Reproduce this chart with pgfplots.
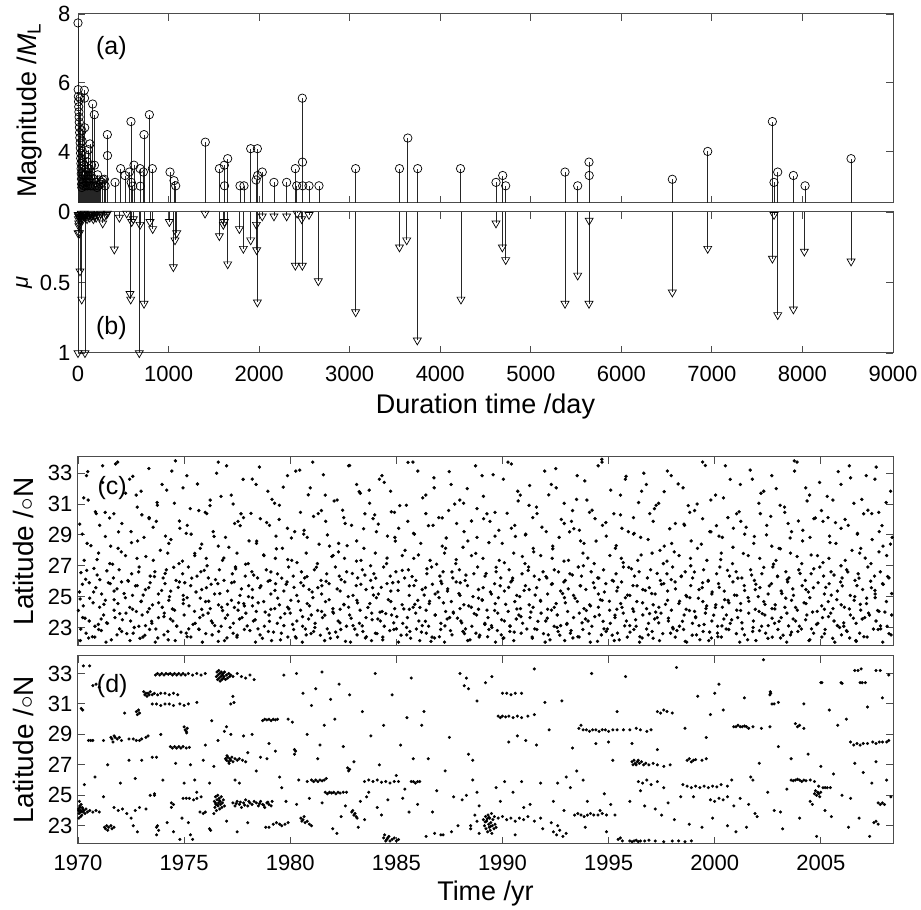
\documentclass[border=0pt]{standalone}
\usepackage{pgfplots}
\pgfplotsset{compat=1.18}
\usepackage{pgfplotstable}
\usepackage{fontspec}
\setmainfont{Liberation Sans}

\pgfplotstableread[row sep=\\]{
0 7.74\\ 2 5.8\\ 4 5.6\\ 6 5.45\\ 8 5.3\\ 10 5.15\\ 12 5.0\\ 14 4.85\\ 16 4.7\\ 18 4.55\\
20 4.4\\ 22 5.55\\ 24 4.25\\ 26 4.1\\ 28 3.95\\ 30 3.8\\ 32 3.65\\ 34 3.5\\ 36 3.35\\ 38 3.2\\
40 3.05\\ 42 2.95\\ 44 4.6\\ 46 4.3\\ 48 4.0\\ 50 3.7\\ 52 3.4\\ 55 3.1\\ 58 3.3\\ 62 3.0\\
66 3.6\\ 70 5.78\\ 72 5.55\\ 74 4.69\\ 78 3.9\\ 82 3.3\\ 86 3.0\\ 90 3.4\\ 95 3.1\\ 100 3.7\\
105 3.0\\ 110 3.3\\ 114 4.05\\ 120 3.2\\ 126 3.5\\ 132 4.22\\ 138 3.0\\ 145 3.3\\ 150 3.6\\ 156 3.0\\
162 5.38\\ 170 3.2\\ 180 5.07\\ 182 3.6\\ 190 3.0\\ 200 3.1\\ 210 2.95\\ 217 3.32\\ 225 3.0\\ 235 3.17\\
250 3.05\\ 265 3.1\\ 273 3.17\\ 291 3.19\\ 300 3.0\\ 324 4.49\\ 326 3.88\\
409 3.1\\ 471 3.5\\ 519 3.3\\ 567 3.4\\ 585 4.87\\ 588 3.1\\ 604 2.99\\ 618 3.6\\ 685 3.5\\ 688 2.99\\
722 3.4\\ 729 4.49\\ 788 5.07\\ 821 3.5\\
1016 3.4\\ 1060 3.15\\ 1079 3.0\\ 1406 4.27\\ 1561 3.5\\ 1616 3.6\\ 1618 3.0\\ 1653 3.79\\
1789 3.0\\ 1833 3.0\\ 1907 4.08\\ 1966 3.17\\ 1981 4.08\\ 1984 3.3\\ 2035 3.4\\ 2164 3.1\\ 2304 3.1\\
2400 3.5\\ 2415 3.0\\ 2477 5.55\\ 2479 3.69\\ 2481 3.0\\ 2551 3.0\\ 2661 3.0\\ 3066 3.5\\
3550 3.5\\ 3642 4.39\\ 3751 3.5\\ 4224 3.5\\ 4616 3.1\\ 4690 3.3\\ 4723 3.0\\
5378 3.4\\ 5518 3.0\\ 5643 3.69\\ 5645 3.3\\ 6563 3.19\\ 6954 4.0\\
7668 4.87\\ 7686 3.1\\ 7727 3.4\\ 7900 3.3\\ 8029 3.0\\ 8537 3.79\\
}\dataa

\pgfplotstableread[row sep=\\]{
0 1.0\\ 1 0.15\\ 2 0.02\\ 4 0.05\\ 6 0.03\\ 8 0.08\\ 10 0.1\\ 12 0.02\\ 15 0.15\\ 18 0.04\\
22 0.42\\ 25 0.02\\ 28 0.06\\ 32 0.03\\ 36 0.01\\ 41 0.62\\ 45 0.04\\ 50 0.02\\ 55 0.05\\ 60 0.03\\
65 0.02\\ 70 0.01\\ 77 1.0\\ 82 0.04\\ 90 0.02\\ 100 0.05\\ 110 0.03\\ 120 0.02\\ 130 0.04\\ 140 0.01\\
150 0.03\\ 160 0.02\\ 170 0.05\\ 180 0.03\\ 190 0.02\\ 200 0.04\\ 217 0.02\\ 235 0.03\\ 250 0.01\\
273 0.08\\ 291 0.03\\ 310 0.02\\ 324 0.01\\
401 0.265\\ 457 0.04\\ 538 0.01\\ 574 0.58\\ 582 0.62\\ 593 0.07\\ 611 0.05\\ 677 1.0\\ 685 0.09\\
729 0.65\\ 795 0.07\\ 825 0.12\\ 1009 0.07\\ 1053 0.39\\ 1071 0.2\\ 1090 0.15\\ 1403 0.01\\
1561 0.17\\ 1605 0.09\\ 1616 0.07\\ 1653 0.37\\ 1782 0.12\\ 1826 0.26\\ 1907 0.2\\ 1970 0.09\\
1973 0.27\\ 1981 0.64\\ 2035 0.03\\ 2164 0.03\\ 2304 0.03\\ 2400 0.38\\ 2420 0.01\\ 2470 0.05\\
2477 0.38\\ 2551 0.02\\ 2654 0.49\\ 3066 0.71\\ 3550 0.25\\ 3630 0.2\\ 3747 0.91\\ 4229 0.62\\
4616 0.08\\ 4686 0.25\\ 4723 0.34\\ 5378 0.65\\ 5518 0.45\\ 5643 0.65\\ 5645 0.06\\ 6563 0.57\\
6954 0.26\\ 7668 0.33\\ 7686 0.02\\ 7727 0.73\\ 7900 0.69\\ 8021 0.28\\ 8537 0.35\\
}\datab

\pgfplotstableread[row sep=\\]{
1970.02 24.1\\ 1970.08 29.7\\ 1970.13 22.9\\ 1970.21 25.8\\ 1970.27 31.4\\ 1970.33 23.6\\ 1970.41 26.7\\ 1970.46 33.1\\ 1970.55 24.9\\ 1970.61 28.3\\ 1970.68 22.4\\ 1970.74 25.3\\ 1970.82 30.5\\ 1970.90 27.4\\ 1970.96 23.2\\
1971.03 26.1\\ 1971.10 22.8\\ 1971.16 32.4\\ 1971.22 24.5\\ 1971.29 28.9\\ 1971.35 23.3\\ 1971.43 25.9\\ 1971.49 30.1\\ 1971.57 22.2\\ 1971.63 27.1\\ 1971.70 24.8\\ 1971.77 33.6\\ 1971.84 25.5\\ 1971.91 29.2\\ 1971.97 23.9\\
1972.04 27.9\\ 1972.09 23.5\\ 1972.17 25.2\\ 1972.24 31.7\\ 1972.30 22.6\\ 1972.37 26.0\\ 1972.44 24.3\\ 1972.52 28.5\\ 1972.58 32.8\\ 1972.65 23.0\\ 1972.71 25.7\\ 1972.79 30.8\\ 1972.86 26.6\\ 1972.92 22.3\\ 1972.98 24.7\\
1973.01 30.3\\ 1973.07 25.1\\ 1973.15 22.5\\ 1973.20 27.6\\ 1973.28 24.0\\ 1973.34 33.3\\ 1973.40 25.9\\ 1973.47 23.4\\ 1973.54 29.5\\ 1973.60 26.3\\ 1973.67 22.9\\ 1973.73 31.1\\ 1973.80 24.6\\ 1973.88 28.0\\ 1973.94 25.4\\
1974.05 23.7\\ 1974.11 26.5\\ 1974.18 31.9\\ 1974.25 22.2\\ 1974.31 25.0\\ 1974.38 28.7\\ 1974.45 24.2\\ 1974.51 26.9\\ 1974.59 33.8\\ 1974.66 23.1\\ 1974.72 25.6\\ 1974.78 29.9\\ 1974.85 22.7\\ 1974.92 27.3\\ 1974.97 24.8\\
1975.03 25.9\\ 1975.10 29.1\\ 1975.14 22.4\\ 1975.23 24.4\\ 1975.29 30.7\\ 1975.36 26.2\\ 1975.42 23.2\\ 1975.50 27.8\\ 1975.56 25.3\\ 1975.63 32.3\\ 1975.69 22.9\\ 1975.76 24.9\\ 1975.83 28.4\\ 1975.89 23.8\\ 1975.95 26.7\\
1976.02 22.6\\ 1976.08 27.0\\ 1976.16 24.7\\ 1976.22 30.9\\ 1976.27 25.8\\ 1976.34 23.3\\ 1976.41 28.9\\ 1976.48 26.1\\ 1976.53 33.0\\ 1976.61 22.1\\ 1976.68 25.2\\ 1976.74 31.5\\ 1976.81 24.1\\ 1976.87 27.5\\ 1976.94 23.6\\
1977.04 24.5\\ 1977.11 28.2\\ 1977.17 23.0\\ 1977.24 25.9\\ 1977.31 31.0\\ 1977.37 24.3\\ 1977.43 26.8\\ 1977.50 22.5\\ 1977.57 24.6\\ 1977.64 29.6\\ 1977.70 25.5\\ 1977.78 32.6\\ 1977.84 24.4\\ 1977.90 27.1\\ 1977.97 23.1\\
1978.03 25.0\\ 1978.10 22.8\\ 1978.15 30.4\\ 1978.22 24.4\\ 1978.28 26.4\\ 1978.35 23.5\\ 1978.42 28.6\\ 1978.49 24.6\\ 1978.55 33.4\\ 1978.62 25.7\\ 1978.69 22.3\\ 1978.75 27.7\\ 1978.82 24.0\\ 1978.89 29.8\\ 1978.96 26.0\\
1979.02 23.4\\ 1979.09 26.6\\ 1979.14 31.3\\ 1979.21 22.7\\ 1979.28 25.4\\ 1979.35 28.1\\ 1979.41 24.9\\ 1979.48 30.0\\ 1979.54 22.2\\ 1979.60 26.2\\ 1979.67 32.1\\ 1979.74 23.9\\ 1979.81 25.8\\ 1979.88 27.4\\ 1979.94 24.2\\
1980.05 28.8\\ 1980.11 23.2\\ 1980.18 25.6\\ 1980.24 22.4\\ 1980.32 27.2\\ 1980.38 24.7\\ 1980.45 33.2\\ 1980.50 25.9\\ 1980.58 23.7\\ 1980.65 29.3\\ 1980.71 22.9\\ 1980.79 26.3\\ 1980.85 31.6\\ 1980.91 24.4\\ 1980.98 22.6\\
1981.03 25.3\\ 1981.10 30.2\\ 1981.16 23.0\\ 1981.23 26.9\\ 1981.29 24.1\\ 1981.36 28.4\\ 1981.42 22.5\\ 1981.49 25.7\\ 1981.56 32.9\\ 1981.63 23.8\\ 1981.69 26.0\\ 1981.75 29.0\\ 1981.83 24.8\\ 1981.89 22.3\\ 1981.96 27.6\\
1982.01 24.0\\ 1982.07 31.2\\ 1982.14 22.7\\ 1982.21 25.5\\ 1982.27 27.9\\ 1982.34 23.3\\ 1982.40 26.1\\ 1982.47 30.6\\ 1982.53 24.5\\ 1982.60 22.1\\ 1982.68 28.3\\ 1982.73 25.0\\ 1982.80 33.5\\ 1982.87 23.6\\ 1982.93 26.5\\
1983.04 22.9\\ 1983.12 27.3\\ 1983.17 24.6\\ 1983.25 31.8\\ 1983.30 31.7\\ 1983.33 25.8\\ 1983.39 23.1\\ 1983.46 29.4\\ 1983.52 26.4\\ 1983.59 22.4\\ 1983.66 24.3\\ 1983.72 31.9\\ 1983.79 27.0\\ 1983.86 23.5\\ 1983.92 25.1\\ 1983.98 30.3\\
1984.03 26.2\\ 1984.09 22.6\\ 1984.15 29.7\\ 1984.23 24.0\\ 1984.29 25.6\\ 1984.36 22.2\\ 1984.43 32.4\\ 1984.50 23.9\\ 1984.56 27.5\\ 1984.62 24.8\\ 1984.69 22.8\\ 1984.76 30.5\\ 1984.83 25.9\\ 1984.88 23.3\\ 1984.95 28.6\\
1985.02 23.7\\ 1985.08 25.4\\ 1985.16 30.9\\ 1985.22 22.5\\ 1985.28 26.7\\ 1985.35 24.2\\ 1985.41 28.0\\ 1985.48 23.0\\ 1985.55 33.7\\ 1985.61 25.7\\ 1985.67 22.3\\ 1985.74 26.3\\ 1985.81 29.1\\ 1985.87 24.5\\ 1985.94 22.9\\
1986.04 27.7\\ 1986.11 24.3\\ 1986.18 22.7\\ 1986.24 31.4\\ 1986.31 25.1\\ 1986.37 23.4\\ 1986.44 26.8\\ 1986.51 29.6\\ 1986.57 24.7\\ 1986.63 22.1\\ 1986.70 25.8\\ 1986.77 32.7\\ 1986.83 23.8\\ 1986.90 27.1\\ 1986.96 25.3\\
1987.03 22.4\\ 1987.10 26.0\\ 1987.16 30.1\\ 1987.22 24.6\\ 1987.29 23.1\\ 1987.35 28.8\\ 1987.42 25.5\\ 1987.49 33.1\\ 1987.55 22.8\\ 1987.62 26.6\\ 1987.68 24.0\\ 1987.75 31.0\\ 1987.82 27.4\\ 1987.88 23.6\\ 1987.95 25.2\\
1988.01 25.9\\ 1988.08 23.3\\ 1988.14 28.2\\ 1988.21 22.6\\ 1988.28 26.4\\ 1988.34 32.0\\ 1988.41 24.4\\ 1988.47 22.2\\ 1988.54 29.9\\ 1988.61 25.0\\ 1988.67 23.9\\ 1988.74 27.8\\ 1988.80 30.7\\ 1988.87 24.9\\ 1988.93 22.5\\
1989.04 24.8\\ 1989.10 31.5\\ 1989.17 23.2\\ 1989.23 26.5\\ 1989.30 22.4\\ 1989.36 28.5\\ 1989.43 25.3\\ 1989.50 23.0\\ 1989.56 32.9\\ 1989.63 24.1\\ 1989.70 26.9\\ 1989.76 22.8\\ 1989.83 29.3\\ 1989.89 25.7\\ 1989.96 23.5\\
1990.03 22.3\\ 1990.09 27.2\\ 1990.15 24.5\\ 1990.22 30.4\\ 1990.29 25.6\\ 1990.35 23.1\\ 1990.42 33.6\\ 1990.48 26.2\\ 1990.55 22.7\\ 1990.61 28.9\\ 1990.68 24.2\\ 1990.74 31.2\\ 1990.81 25.0\\ 1990.87 23.7\\ 1990.94 27.6\\
1991.02 25.4\\ 1991.08 29.0\\ 1991.15 22.9\\ 1991.21 26.7\\ 1991.28 32.2\\ 1991.34 24.0\\ 1991.41 22.3\\ 1991.47 27.9\\ 1991.54 25.1\\ 1991.60 30.8\\ 1991.67 23.4\\ 1991.73 26.1\\ 1991.80 24.7\\ 1991.86 29.5\\ 1991.93 22.6\\
1992.05 26.3\\ 1992.11 23.6\\ 1992.18 31.6\\ 1992.24 22.2\\ 1992.31 25.8\\ 1992.37 28.1\\ 1992.44 24.3\\ 1992.51 33.3\\ 1992.57 23.0\\ 1992.64 26.6\\ 1992.70 22.5\\ 1992.77 30.0\\ 1992.83 25.2\\ 1992.90 27.3\\ 1992.96 24.6\\
1993.03 23.2\\ 1993.10 25.5\\ 1993.16 29.2\\ 1993.23 22.8\\ 1993.29 26.4\\ 1993.36 29.4\\ 1993.42 24.9\\ 1993.49 31.3\\ 1993.55 22.4\\ 1993.62 29.3\\ 1993.68 25.7\\ 1993.75 23.3\\ 1993.81 27.0\\ 1993.88 32.5\\ 1993.95 24.1\\
1994.02 27.5\\ 1994.09 22.6\\ 1994.15 24.4\\ 1994.22 30.6\\ 1994.28 25.9\\ 1994.35 23.7\\ 1994.41 28.6\\ 1994.48 22.1\\ 1994.54 26.2\\ 1994.61 24.8\\ 1994.68 33.9\\ 1994.74 23.4\\ 1994.80 25.3\\ 1994.87 29.8\\ 1994.94 22.9\\
1995.04 24.7\\ 1995.10 31.9\\ 1995.17 22.5\\ 1995.23 26.0\\ 1995.30 23.8\\ 1995.36 28.3\\ 1995.43 25.6\\ 1995.50 22.2\\ 1995.56 30.3\\ 1995.63 24.3\\ 1995.69 27.2\\ 1995.76 23.1\\ 1995.82 32.8\\ 1995.89 25.1\\ 1995.95 26.9\\
1996.01 22.7\\ 1996.08 26.8\\ 1996.14 24.2\\ 1996.21 29.1\\ 1996.27 23.5\\ 1996.34 25.7\\ 1996.41 31.1\\ 1996.47 22.4\\ 1996.53 27.7\\ 1996.60 24.6\\ 1996.66 33.0\\ 1996.73 25.4\\ 1996.79 22.9\\ 1996.86 28.7\\ 1996.93 23.9\\
1997.03 25.2\\ 1997.10 22.3\\ 1997.16 30.7\\ 1997.22 24.0\\ 1997.29 26.5\\ 1997.36 23.3\\ 1997.42 28.0\\ 1997.49 25.8\\ 1997.55 22.6\\ 1997.62 31.8\\ 1997.68 24.5\\ 1997.75 27.3\\ 1997.82 23.6\\ 1997.88 29.4\\ 1997.95 26.1\\
1998.02 23.0\\ 1998.09 27.9\\ 1998.15 25.5\\ 1998.22 22.8\\ 1998.28 32.3\\ 1998.35 24.7\\ 1998.42 26.3\\ 1998.48 23.4\\ 1998.55 29.7\\ 1998.61 22.1\\ 1998.68 25.0\\ 1998.75 30.9\\ 1998.81 24.1\\ 1998.87 27.0\\ 1998.94 22.5\\
1999.04 26.6\\ 1999.10 23.7\\ 1999.17 31.0\\ 1999.23 24.9\\ 1999.30 22.2\\ 1999.37 28.4\\ 1999.43 25.9\\ 1999.50 23.2\\ 1999.56 33.5\\ 1999.62 24.4\\ 1999.69 26.0\\ 1999.76 22.7\\ 1999.82 29.2\\ 1999.88 25.3\\ 1999.95 23.8\\
2000.03 24.3\\ 2000.08 29.6\\ 2000.15 22.4\\ 2000.21 25.6\\ 2000.28 27.4\\ 2000.34 23.1\\ 2000.41 31.4\\ 2000.47 24.8\\ 2000.54 22.9\\ 2000.60 26.7\\ 2000.67 24.6\\ 2000.73 32.6\\ 2000.80 23.5\\ 2000.86 28.2\\ 2000.93 25.1\\
2001.02 22.6\\ 2001.09 26.2\\ 2001.15 30.5\\ 2001.22 24.1\\ 2001.28 23.3\\ 2001.35 27.8\\ 2001.41 25.4\\ 2001.48 29.5\\ 2001.55 22.2\\ 2001.61 24.7\\ 2001.67 33.2\\ 2001.74 26.4\\ 2001.81 23.0\\ 2001.87 28.9\\ 2001.94 25.8\\
2002.05 25.0\\ 2002.11 22.8\\ 2002.18 31.7\\ 2002.24 23.9\\ 2002.31 26.9\\ 2002.37 24.5\\ 2002.44 29.0\\ 2002.51 22.3\\ 2002.57 25.7\\ 2002.64 30.2\\ 2002.70 23.6\\ 2002.77 27.1\\ 2002.83 24.2\\ 2002.90 32.0\\ 2002.96 26.3\\
2003.03 23.4\\ 2003.09 28.1\\ 2003.16 25.2\\ 2003.22 22.5\\ 2003.29 30.8\\ 2003.35 24.9\\ 2003.42 26.1\\ 2003.48 23.1\\ 2003.55 28.8\\ 2003.62 22.7\\ 2003.68 25.5\\ 2003.75 33.8\\ 2003.81 24.3\\ 2003.88 27.6\\ 2003.94 29.9\\
2004.02 26.5\\ 2004.08 22.9\\ 2004.15 29.3\\ 2004.21 24.6\\ 2004.28 23.5\\ 2004.35 31.2\\ 2004.41 25.3\\ 2004.48 22.2\\ 2004.54 27.7\\ 2004.61 24.0\\ 2004.67 26.8\\ 2004.74 30.1\\ 2004.80 23.2\\ 2004.87 25.9\\ 2004.94 32.4\\
2005.04 24.4\\ 2005.10 27.2\\ 2005.17 22.6\\ 2005.23 25.6\\ 2005.30 31.5\\ 2005.36 23.7\\ 2005.43 28.5\\ 2005.49 25.1\\ 2005.56 22.3\\ 2005.62 26.4\\ 2005.69 29.8\\ 2005.75 24.8\\ 2005.82 33.1\\ 2005.88 23.0\\ 2005.95 27.0\\
2006.01 25.7\\ 2006.08 23.3\\ 2006.14 30.0\\ 2006.21 22.8\\ 2006.27 26.6\\ 2006.34 24.2\\ 2006.40 32.7\\ 2006.47 28.0\\ 2006.53 23.6\\ 2006.60 25.0\\ 2006.67 22.1\\ 2006.73 29.1\\ 2006.80 26.2\\ 2006.86 24.5\\ 2006.93 31.3\\
2007.03 22.4\\ 2007.09 27.5\\ 2007.16 24.9\\ 2007.22 30.6\\ 2007.29 23.8\\ 2007.35 26.0\\ 2007.42 28.7\\ 2007.48 22.9\\ 2007.55 25.4\\ 2007.61 33.4\\ 2007.68 24.1\\ 2007.74 27.9\\ 2007.81 23.1\\ 2007.88 29.6\\ 2007.94 25.8\\
2008.02 24.0\\ 2008.08 31.1\\ 2008.15 26.3\\ 2008.21 22.6\\ 2008.28 28.4\\ 2008.34 25.2\\
}\datac

\pgfplotstableread[row sep=\\]{
1970.11 22.15\\ 1970.38 22.63\\ 1970.79 22.38\\ 1970.97 22.87\\ 1971.32 22.05\\ 1971.84 22.52\\ 1972.06 22.74\\ 1972.45 22.15\\ 1972.60 22.63\\ 1973.06 22.38\\
1973.37 22.87\\ 1973.64 22.05\\ 1974.05 22.52\\ 1974.23 22.74\\ 1974.58 22.15\\ 1975.10 22.63\\ 1975.32 22.38\\ 1975.71 22.87\\ 1975.86 22.05\\ 1976.32 22.52\\
1976.63 22.74\\ 1976.90 22.15\\ 1977.31 22.63\\ 1977.49 22.38\\ 1977.84 22.87\\ 1978.36 22.05\\ 1978.58 22.52\\ 1978.97 22.74\\ 1979.12 22.15\\ 1979.58 22.63\\
1979.89 22.38\\ 1980.16 22.87\\ 1980.57 22.05\\ 1980.75 22.52\\ 1981.10 22.74\\ 1981.62 22.15\\ 1981.84 22.63\\ 1982.23 22.38\\ 1982.38 22.87\\ 1982.84 22.05\\
1983.15 22.52\\ 1983.42 22.74\\ 1983.83 22.15\\ 1984.01 22.63\\ 1984.36 22.38\\ 1984.88 22.87\\ 1985.10 22.05\\ 1985.49 22.52\\ 1985.64 22.74\\ 1986.10 22.15\\
1986.41 22.63\\ 1986.68 22.38\\ 1987.09 22.87\\ 1987.27 22.05\\ 1987.62 22.52\\ 1988.14 22.74\\ 1988.36 22.15\\ 1988.75 22.63\\ 1988.90 22.38\\ 1989.36 22.87\\
1989.67 22.05\\ 1989.94 22.52\\ 1990.35 22.74\\ 1990.53 22.15\\ 1990.88 22.63\\ 1991.40 22.38\\ 1991.62 22.87\\ 1992.01 22.05\\ 1992.16 22.52\\ 1992.62 22.74\\
1992.93 22.15\\ 1993.20 22.63\\ 1993.61 22.38\\ 1993.79 22.87\\ 1994.14 22.05\\ 1994.66 22.52\\ 1994.88 22.74\\ 1995.27 22.15\\ 1995.42 22.63\\ 1995.88 22.38\\
1996.19 22.87\\ 1996.46 22.05\\ 1996.87 22.52\\ 1997.05 22.74\\ 1997.40 22.15\\ 1997.92 22.63\\ 1998.14 22.38\\ 1998.53 22.87\\ 1998.68 22.05\\ 1999.14 22.52\\
1999.45 22.74\\ 1999.72 22.15\\ 2000.13 22.63\\ 2000.31 22.38\\ 2000.66 22.87\\ 2001.18 22.05\\ 2001.40 22.52\\ 2001.79 22.74\\ 2001.94 22.15\\ 2002.40 22.63\\
2002.71 22.38\\ 2002.98 22.87\\ 2003.39 22.05\\ 2003.57 22.52\\ 2003.92 22.74\\ 2004.44 22.15\\ 2004.66 22.63\\ 2005.05 22.38\\ 2005.20 22.87\\ 2005.66 22.05\\
2005.97 22.52\\ 2006.24 22.74\\ 2006.65 22.15\\ 2006.83 22.63\\ 2007.18 22.38\\ 2007.70 22.87\\ 2007.92 22.05\\ 2008.31 22.52\\
1970.22 23.64\\ 1970.53 23.42\\ 1970.80 23.08\\ 1971.21 23.81\\ 1971.39 23.27\\ 1971.74 23.64\\ 1972.26 23.93\\ 1972.48 23.42\\ 1972.87 23.08\\ 1973.02 23.81\\ 1973.48 23.27\\
1973.79 23.64\\ 1974.06 23.93\\ 1974.47 23.42\\ 1974.65 23.08\\ 1975.00 23.81\\ 1975.52 23.27\\ 1975.74 23.64\\ 1976.13 23.93\\ 1976.28 23.42\\ 1976.74 23.08\\
1977.05 23.81\\ 1977.32 23.27\\ 1977.73 23.64\\ 1977.91 23.93\\ 1978.26 23.42\\ 1978.78 23.08\\ 1979.00 23.81\\ 1979.39 23.27\\ 1979.54 23.64\\ 1980.00 23.93\\
1980.31 23.42\\ 1980.58 23.08\\ 1980.99 23.81\\ 1981.17 23.27\\ 1981.52 23.64\\ 1982.04 23.93\\ 1982.26 23.42\\ 1982.65 23.08\\ 1982.80 23.81\\ 1983.26 23.27\\
1983.57 23.64\\ 1983.84 23.93\\ 1984.25 23.42\\ 1984.43 23.08\\ 1984.78 23.81\\ 1985.30 23.27\\ 1985.52 23.64\\ 1985.91 23.93\\ 1986.06 23.42\\ 1986.52 23.08\\
1986.83 23.81\\ 1987.10 23.27\\ 1987.51 23.64\\ 1987.69 23.93\\ 1988.04 23.42\\ 1988.56 23.08\\ 1988.78 23.81\\ 1989.17 23.27\\ 1989.32 23.64\\ 1989.78 23.93\\
1990.09 23.42\\ 1990.36 23.08\\ 1990.77 23.81\\ 1990.95 23.27\\ 1991.30 23.64\\ 1991.82 23.93\\ 1992.04 23.42\\ 1992.43 23.08\\ 1992.58 23.81\\ 1993.04 23.27\\
1993.35 23.64\\ 1993.62 23.93\\ 1994.03 23.42\\ 1994.21 23.08\\ 1994.56 23.81\\ 1995.08 23.27\\ 1995.30 23.64\\ 1995.69 23.93\\ 1995.84 23.42\\ 1996.30 23.08\\
1996.61 23.81\\ 1996.88 23.27\\ 1997.29 23.64\\ 1997.47 23.93\\ 1997.82 23.42\\ 1998.34 23.08\\ 1998.56 23.81\\ 1998.95 23.27\\ 1999.10 23.64\\ 1999.56 23.93\\
1999.87 23.42\\ 2000.14 23.08\\ 2000.55 23.81\\ 2000.73 23.27\\ 2001.08 23.64\\ 2001.60 23.93\\ 2001.82 23.42\\ 2002.21 23.08\\ 2002.36 23.81\\ 2002.82 23.27\\
2003.13 23.64\\ 2003.40 23.93\\ 2003.81 23.42\\ 2003.99 23.08\\ 2004.34 23.81\\ 2004.86 23.27\\ 2005.08 23.64\\ 2005.47 23.93\\ 2005.62 23.42\\ 2006.08 23.08\\
2006.39 23.81\\ 2006.66 23.27\\ 2007.07 23.64\\ 2007.25 23.93\\ 2007.60 23.42\\ 2008.12 23.08\\ 2008.34 23.81\\
1970.10 24.85\\ 1970.25 24.40\\ 1970.71 24.60\\
1971.02 24.31\\ 1971.29 24.76\\ 1971.70 24.12\\ 1971.88 24.55\\ 1972.23 24.93\\ 1972.75 24.04\\ 1972.97 24.68\\ 1973.36 24.22\\ 1973.51 24.47\\ 1973.97 24.31\\
1974.28 24.76\\ 1974.55 24.12\\ 1974.96 24.55\\ 1975.14 24.93\\ 1975.49 24.04\\ 1976.01 24.68\\ 1976.23 24.22\\ 1976.62 24.47\\ 1976.77 24.31\\ 1977.23 24.76\\
1977.54 24.12\\ 1977.81 24.55\\ 1978.22 24.93\\ 1978.40 24.04\\ 1978.75 24.68\\ 1979.27 24.22\\ 1979.49 24.47\\ 1979.88 24.31\\ 1980.03 24.76\\ 1980.49 24.12\\
1980.80 24.55\\ 1981.07 24.93\\ 1981.48 24.04\\ 1981.66 24.68\\ 1982.01 24.22\\ 1982.53 24.47\\ 1982.75 24.31\\ 1983.14 24.76\\ 1983.29 24.12\\ 1983.75 24.55\\
1984.06 24.93\\ 1984.33 24.04\\ 1984.74 24.68\\ 1984.92 24.22\\ 1985.27 24.47\\ 1985.79 24.31\\ 1986.01 24.76\\ 1986.40 24.12\\ 1986.55 24.55\\ 1987.01 24.93\\
1987.32 24.04\\ 1987.59 24.68\\ 1988.00 24.22\\ 1988.18 24.47\\ 1988.53 24.31\\ 1989.05 24.76\\ 1989.27 24.12\\ 1989.66 24.55\\ 1989.81 24.93\\ 1990.27 24.04\\
1990.58 24.68\\ 1990.85 24.22\\ 1991.26 24.47\\ 1991.44 24.31\\ 1991.79 24.76\\ 1992.31 24.12\\ 1992.53 24.55\\ 1992.92 24.93\\ 1993.07 24.04\\ 1993.53 24.68\\
1993.84 24.22\\ 1994.11 24.47\\ 1994.52 24.31\\ 1994.70 24.76\\ 1995.05 24.12\\ 1995.57 24.55\\ 1995.79 24.93\\ 1996.18 24.04\\ 1996.33 24.68\\ 1996.79 24.22\\
1997.10 24.47\\ 1997.37 24.31\\ 1997.78 24.76\\ 1997.96 24.12\\ 1998.31 24.55\\ 1998.83 24.93\\ 1999.05 24.04\\ 1999.44 24.68\\ 1999.59 24.22\\ 2000.05 24.47\\
2000.36 24.31\\ 2000.63 24.76\\ 2001.04 24.12\\ 2001.22 24.55\\ 2001.57 24.93\\ 2002.09 24.04\\ 2002.31 24.68\\ 2002.70 24.22\\ 2002.85 24.47\\ 2003.31 24.31\\
2003.62 24.76\\ 2003.89 24.12\\ 2004.30 24.55\\ 2004.48 24.93\\ 2004.83 24.04\\ 2005.35 24.68\\ 2005.57 24.22\\ 2005.96 24.47\\ 2006.11 24.31\\ 2006.57 24.76\\
2006.88 24.12\\ 2007.15 24.55\\ 2007.56 24.93\\ 2007.74 24.04\\ 2008.09 24.68\\
1970.07 25.30\\ 1970.53 25.90\\
1970.84 25.58\\ 1971.11 25.17\\ 1971.52 25.84\\ 1971.70 25.36\\ 1972.05 25.95\\ 1972.57 25.08\\ 1972.79 25.71\\ 1973.18 25.46\\ 1973.33 25.58\\ 1973.79 25.17\\
1974.10 25.84\\ 1974.37 25.36\\ 1974.78 25.95\\ 1974.96 25.08\\ 1975.31 25.71\\ 1975.83 25.46\\ 1976.05 25.58\\ 1976.44 25.17\\ 1976.59 25.84\\ 1977.05 25.36\\
1977.36 25.95\\ 1977.63 25.08\\ 1978.04 25.71\\ 1978.22 25.46\\ 1978.57 25.58\\ 1979.09 25.17\\ 1979.31 25.84\\ 1979.70 25.36\\ 1979.85 25.95\\ 1980.31 25.08\\
1980.62 25.71\\ 1980.89 25.46\\ 1981.30 25.58\\ 1981.48 25.17\\ 1981.83 25.84\\ 1982.35 25.36\\ 1982.57 25.95\\ 1982.96 25.08\\ 1983.11 25.71\\ 1983.57 25.46\\
1983.88 25.58\\ 1984.15 25.17\\ 1984.56 25.84\\ 1984.74 25.36\\ 1985.09 25.95\\ 1985.61 25.08\\ 1985.83 25.71\\ 1986.22 25.46\\ 1986.37 25.58\\ 1986.83 25.17\\
1987.14 25.84\\ 1987.41 25.36\\ 1987.82 25.95\\ 1988.00 25.08\\ 1988.35 25.71\\ 1988.87 25.46\\ 1989.09 25.58\\ 1989.48 25.17\\ 1989.63 25.84\\ 1990.09 25.36\\
1990.40 25.95\\ 1990.67 25.08\\ 1991.08 25.71\\ 1991.26 25.46\\ 1991.61 25.58\\ 1992.13 25.17\\ 1992.35 25.84\\ 1992.74 25.36\\ 1992.89 25.95\\ 1993.35 25.08\\
1993.66 25.71\\ 1993.93 25.46\\ 1994.34 25.58\\ 1994.52 25.17\\ 1994.87 25.84\\ 1995.39 25.36\\ 1995.61 25.95\\ 1996.00 25.08\\ 1996.15 25.71\\ 1996.61 25.46\\
1996.92 25.58\\ 1997.19 25.17\\ 1997.60 25.84\\ 1997.78 25.36\\ 1998.13 25.95\\ 1998.65 25.08\\ 1998.87 25.71\\ 1999.26 25.46\\ 1999.41 25.58\\ 1999.87 25.17\\
2000.18 25.84\\ 2000.45 25.36\\ 2000.86 25.95\\ 2001.04 25.08\\ 2001.39 25.71\\ 2001.91 25.46\\ 2002.13 25.58\\ 2002.52 25.17\\ 2002.67 25.84\\ 2003.13 25.36\\
2003.44 25.95\\ 2003.71 25.08\\ 2004.12 25.71\\ 2004.30 25.46\\ 2004.65 25.58\\ 2005.17 25.17\\ 2005.39 25.84\\ 2005.78 25.36\\ 2005.93 25.95\\ 2006.39 25.08\\
2006.70 25.71\\ 2006.97 25.46\\ 2007.38 25.58\\ 2007.56 25.17\\ 2007.91 25.84\\
1970.14 26.55\\ 1970.36 26.12\\ 1970.75 26.83\\ 1970.90 26.40\\ 1971.36 26.67\\
1971.67 26.21\\ 1971.94 26.74\\ 1972.35 26.05\\ 1972.53 26.48\\ 1972.88 26.92\\ 1973.40 26.33\\ 1973.62 26.61\\ 1974.01 26.21\\ 1974.16 26.74\\ 1974.62 26.05\\
1974.93 26.48\\ 1975.20 26.92\\ 1975.61 26.33\\ 1975.79 26.61\\ 1976.14 26.21\\ 1976.66 26.74\\ 1976.88 26.05\\ 1977.27 26.48\\ 1977.42 26.92\\ 1977.88 26.33\\
1978.19 26.61\\ 1978.46 26.21\\ 1978.87 26.74\\ 1979.05 26.05\\ 1979.40 26.48\\ 1979.92 26.92\\ 1980.14 26.33\\ 1980.53 26.61\\ 1980.68 26.21\\ 1981.14 26.74\\
1981.45 26.05\\ 1981.72 26.48\\ 1982.13 26.92\\ 1982.31 26.33\\ 1982.66 26.61\\ 1983.18 26.21\\ 1983.40 26.74\\ 1983.79 26.05\\ 1983.94 26.48\\ 1984.40 26.92\\
1984.71 26.33\\ 1984.98 26.61\\ 1985.39 26.21\\ 1985.57 26.74\\ 1985.92 26.05\\ 1986.44 26.48\\ 1986.66 26.92\\ 1987.05 26.33\\ 1987.20 26.61\\ 1987.66 26.21\\
1987.97 26.74\\ 1988.24 26.05\\ 1988.65 26.48\\ 1988.83 26.92\\ 1989.18 26.33\\ 1989.70 26.61\\ 1989.92 26.21\\ 1990.31 26.74\\ 1990.46 26.05\\ 1990.92 26.48\\
1991.23 26.92\\ 1991.50 26.33\\ 1991.91 26.61\\ 1992.09 26.21\\ 1992.44 26.74\\ 1992.96 26.05\\ 1993.18 26.48\\ 1993.57 26.92\\ 1993.72 26.33\\ 1994.18 26.61\\
1994.49 26.21\\ 1994.76 26.74\\ 1995.17 26.05\\ 1995.35 26.48\\ 1995.70 26.92\\ 1996.22 26.33\\ 1996.44 26.61\\ 1996.83 26.21\\ 1996.98 26.74\\ 1997.44 26.05\\
1997.75 26.48\\ 1998.02 26.92\\ 1998.43 26.33\\ 1998.61 26.61\\ 1998.96 26.21\\ 1999.48 26.74\\ 1999.70 26.05\\ 2000.09 26.48\\ 2000.24 26.92\\ 2000.70 26.33\\
2001.01 26.61\\ 2001.28 26.21\\ 2001.69 26.74\\ 2001.87 26.05\\ 2002.22 26.48\\ 2002.74 26.92\\ 2002.96 26.33\\ 2003.35 26.61\\ 2003.50 26.21\\ 2003.96 26.74\\
2004.27 26.05\\ 2004.54 26.48\\ 2004.95 26.92\\ 2005.13 26.33\\ 2005.48 26.61\\ 2006.00 26.21\\ 2006.22 26.74\\ 2006.61 26.05\\ 2006.76 26.48\\ 2007.22 26.92\\
2007.53 26.33\\ 2007.80 26.61\\ 2008.21 26.21\\
1970.29 27.35\\ 1970.97 27.82\\ 1971.50 27.14\\ 1972.24 27.66\\ 1972.78 27.48\\ 1973.55 27.35\\ 1974.23 27.82\\ 1974.76 27.14\\ 1975.50 27.66\\ 1976.04 27.48\\
1976.81 27.35\\ 1977.49 27.82\\ 1978.02 27.14\\ 1978.76 27.66\\ 1979.30 27.48\\ 1980.07 27.35\\ 1980.75 27.82\\ 1981.28 27.14\\ 1982.02 27.66\\ 1982.56 27.48\\
1983.33 27.35\\ 1984.01 27.82\\ 1984.54 27.14\\ 1985.28 27.66\\ 1985.82 27.48\\ 1986.59 27.35\\ 1987.27 27.82\\ 1987.80 27.14\\ 1988.54 27.66\\ 1989.08 27.48\\
1989.85 27.35\\ 1990.53 27.82\\ 1991.06 27.14\\ 1991.80 27.66\\ 1992.34 27.48\\ 1993.11 27.35\\ 1993.79 27.82\\ 1994.32 27.14\\ 1995.06 27.66\\ 1995.60 27.48\\
1996.37 27.35\\ 1997.05 27.82\\ 1997.58 27.14\\ 1998.32 27.66\\ 1998.86 27.48\\ 1999.63 27.35\\ 2000.31 27.82\\ 2000.84 27.14\\ 2001.58 27.66\\ 2002.12 27.48\\
2002.89 27.35\\ 2003.57 27.82\\ 2004.10 27.14\\ 2004.84 27.66\\ 2005.38 27.48\\ 2006.15 27.35\\ 2006.83 27.82\\ 2007.36 27.14\\ 2008.10 27.66\\
1970.43 28.45\\ 1971.02 29.62\\ 1971.89 28.13\\ 1972.50 29.21\\ 1973.11 28.84\\ 1973.69 29.88\\ 1974.28 28.45\\ 1975.15 29.62\\ 1975.76 28.13\\ 1976.37 29.21\\
1976.95 28.84\\ 1977.54 29.88\\ 1978.41 28.45\\ 1979.02 29.62\\ 1979.63 28.13\\ 1980.21 29.21\\ 1980.80 28.84\\ 1981.67 29.88\\ 1982.28 28.45\\ 1982.89 29.62\\
1983.47 28.13\\ 1984.06 29.21\\ 1984.93 28.84\\ 1985.54 29.88\\ 1986.15 28.45\\ 1986.73 29.62\\ 1987.32 28.13\\ 1988.19 29.21\\ 1988.80 28.84\\ 1989.41 29.88\\
1989.99 28.45\\ 1990.58 29.62\\ 1991.45 28.13\\ 1992.06 29.21\\ 1992.67 28.84\\ 1993.25 29.88\\ 1993.84 28.45\\ 1994.71 29.62\\ 1995.32 28.13\\ 1995.93 29.21\\
1996.51 28.84\\ 1997.10 29.88\\ 1997.97 28.45\\ 1998.58 29.62\\ 1999.19 28.13\\ 1999.77 29.21\\ 2000.36 28.84\\ 2001.23 29.88\\ 2001.84 28.45\\ 2002.45 29.62\\
2003.03 28.13\\ 2003.62 29.21\\ 2004.49 28.84\\ 2005.10 29.88\\ 2005.71 28.45\\ 2006.29 29.62\\ 2006.88 28.13\\ 2007.75 29.21\\ 2008.36 28.84\\
1970.48 31.26\\ 1971.16 33.48\\ 1971.69 30.37\\ 1972.43 32.61\\ 1972.97 31.83\\ 1973.74 30.92\\ 1974.42 33.14\\ 1974.95 32.05\\ 1975.69 30.58\\ 1976.23 31.26\\
1977.00 33.48\\ 1977.68 30.37\\ 1978.21 32.61\\ 1978.95 31.83\\ 1979.49 30.92\\ 1980.26 33.14\\ 1980.94 32.05\\ 1981.47 30.58\\ 1982.21 31.26\\ 1982.75 33.48\\
1983.52 30.37\\ 1984.20 32.61\\ 1984.73 31.83\\ 1985.47 30.92\\ 1986.01 33.14\\ 1986.78 32.05\\ 1987.46 30.58\\ 1987.99 31.26\\ 1988.73 33.48\\ 1989.27 30.37\\
1990.04 32.61\\ 1990.72 31.83\\ 1991.25 30.92\\ 1991.99 33.14\\ 1992.53 32.05\\ 1993.30 30.58\\ 1993.98 31.26\\ 1994.51 33.48\\ 1995.25 30.37\\ 1995.79 32.61\\
1996.56 31.83\\ 1997.24 30.92\\ 1997.77 33.14\\ 1998.51 32.05\\ 1999.05 30.58\\ 1999.82 31.26\\ 2000.50 33.48\\ 2001.03 30.37\\ 2001.77 32.61\\ 2002.31 31.83\\
2003.08 30.92\\ 2003.76 33.14\\ 2004.29 32.05\\ 2005.03 30.58\\ 2005.57 31.26\\ 2006.34 33.48\\ 2007.02 30.37\\ 2007.55 32.61\\ 2008.29 31.83\\
}\datace

\pgfplotstableread[row sep=\\]{
1970.40 32.84\\ 1971.28 30.46\\ 1971.87 33.72\\ 1972.74 31.58\\ 1973.35 30.12\\ 1973.96 32.27\\ 1974.54 31.05\\ 1975.13 32.84\\ 1976.00 30.46\\ 1976.61 33.72\\
1977.22 31.58\\ 1977.80 30.12\\ 1978.39 32.27\\ 1979.26 31.05\\ 1979.87 32.84\\ 1980.48 30.46\\ 1981.06 33.72\\ 1981.65 31.58\\ 1982.52 30.12\\ 1983.13 32.27\\
1983.74 31.05\\ 1984.32 32.84\\ 1984.91 30.46\\ 1985.78 33.72\\ 1986.39 31.58\\ 1987.00 30.12\\ 1987.58 32.27\\ 1988.17 31.05\\ 1989.04 32.84\\ 1989.65 30.46\\
1990.26 33.72\\ 1990.84 31.58\\ 1991.43 30.12\\ 1992.30 32.27\\ 1992.91 31.05\\ 1993.52 32.84\\ 1994.10 30.46\\ 1994.69 33.72\\ 1995.56 31.58\\ 1996.17 30.12\\
1996.78 32.27\\ 1997.36 31.05\\ 1997.95 32.84\\ 1998.82 30.46\\ 1999.43 33.72\\ 2000.04 31.58\\ 2000.62 30.12\\ 2001.21 32.27\\ 2002.08 31.05\\ 2002.69 32.84\\
2003.30 30.46\\ 2003.88 33.72\\ 2004.47 31.58\\ 2005.34 30.12\\ 2005.95 32.27\\ 2006.56 31.05\\ 2007.14 32.84\\ 2007.73 30.46\\
1970.20 29.05\\ 1970.86 30.38\\ 1971.54 28.27\\ 1972.07 29.74\\ 1972.81 28.61\\ 1973.35 30.05\\ 1974.12 28.92\\ 1974.80 29.43\\ 1975.33 29.05\\ 1976.07 30.38\\
1976.61 28.27\\ 1977.38 29.74\\ 1978.06 28.61\\ 1978.59 30.05\\ 1979.33 28.92\\ 1979.87 29.43\\ 1980.64 29.05\\ 1981.32 30.38\\ 1981.85 28.27\\ 1982.59 29.74\\
1983.13 28.61\\ 1983.90 30.05\\ 1984.58 28.92\\ 1985.11 29.43\\ 1985.85 29.05\\ 1986.39 30.38\\ 1987.16 28.27\\ 1987.84 29.74\\ 1988.37 28.61\\ 1989.11 30.05\\
1989.65 28.92\\ 1990.42 29.43\\ 1991.10 29.05\\ 1991.63 30.38\\ 1992.37 28.27\\ 1992.91 29.74\\ 1993.68 28.61\\ 1994.36 30.05\\ 1994.89 28.92\\ 1995.63 29.43\\
1996.17 29.05\\ 1996.94 30.38\\ 1997.62 28.27\\ 1998.15 29.74\\ 1998.89 28.61\\ 1999.43 30.05\\ 2000.20 28.92\\ 2000.88 29.43\\ 2001.41 29.05\\ 2002.15 30.38\\
2002.69 28.27\\ 2003.46 29.74\\ 2004.14 28.61\\ 2004.67 30.05\\ 2005.41 28.92\\ 2005.95 29.43\\ 2006.72 29.05\\ 2007.40 30.38\\ 2007.93 28.27\\
1970.50 22.32\\ 1971.09 23.55\\ 1971.96 22.91\\ 1972.57 24.18\\ 1973.18 23.12\\ 1973.76 22.32\\ 1974.35 23.55\\ 1975.22 22.91\\ 1975.83 24.18\\ 1976.44 23.12\\
1977.02 22.32\\ 1977.61 23.55\\ 1978.48 22.91\\ 1979.09 24.18\\ 1979.70 23.12\\ 1980.28 22.32\\ 1980.87 23.55\\ 1981.74 22.91\\ 1982.35 24.18\\ 1982.96 23.12\\
1983.54 22.32\\ 1984.13 23.55\\ 1985.00 22.91\\ 1985.61 24.18\\ 1986.22 23.12\\ 1986.80 22.32\\ 1987.39 23.55\\ 1988.26 22.91\\ 1988.87 24.18\\ 1989.48 23.12\\
1990.06 22.32\\ 1990.65 23.55\\ 1991.52 22.91\\ 1992.13 24.18\\ 1992.74 23.12\\ 1993.32 22.32\\ 1993.91 23.55\\ 1994.78 22.91\\ 1995.39 24.18\\ 1996.00 23.12\\
1996.58 22.32\\ 1997.17 23.55\\ 1998.04 22.91\\ 1998.65 24.18\\ 1999.26 23.12\\ 1999.84 22.32\\ 2000.43 23.55\\ 2001.30 22.91\\ 2001.91 24.18\\ 2002.52 23.12\\
2003.10 22.32\\ 2003.69 23.55\\ 2004.56 22.91\\ 2005.17 24.18\\ 2005.78 23.12\\ 2006.36 22.32\\ 2006.95 23.55\\ 2007.82 22.91\\
}\datacf

\pgfplotstableread[row sep=\\]{
1970.02 24.1\\ 1970.05 23.8\\ 1970.08 24.3\\ 1970.10 23.9\\ 1970.12 24.0\\ 1970.15 24.4\\ 1970.18 23.7\\ 1970.04 23.5\\ 1970.07 24.6\\ 1970.13 23.6\\ 1970.20 24.2\\ 1970.24 23.9\\ 1970.28 24.0\\ 1970.33 23.8\\ 1970.38 24.1\\ 1970.45 23.9\\ 1970.09 24.2\\ 1970.16 23.95\\ 1970.03 24.0\\ 1970.22 24.1\\ 1970.55 24.0\\ 1970.70 23.9\\ 1970.85 24.0\\ 1971.0 23.9\\
1970.25 33.5\\ 1970.55 33.5\\ 1970.15 30.7\\ 1970.22 30.6\\ 1970.7 32.2\\ 1970.85 32.3\\ 1971.0 32.1\\
1970.5 28.6\\ 1970.6 28.6\\ 1970.7 28.6\\ 1971.2 28.6\\
1971.55 28.8\\ 1971.6 28.7\\ 1971.7 28.9\\ 1971.75 28.8\\ 1971.85 28.7\\ 1971.95 28.8\\ 1972.05 28.6\\ 1971.65 28.5\\
1971.25 22.9\\ 1971.3 22.8\\ 1971.35 23.0\\ 1971.4 22.7\\ 1971.45 22.9\\ 1971.55 23.0\\ 1971.6 22.8\\ 1971.7 22.9\\
1971.7 24.2\\ 1971.9 24.0\\ 1972.1 24.1\\ 1972.3 23.8\\ 1972.5 23.5\\
1972.75 30.5\\ 1972.8 30.3\\ 1972.85 30.6\\ 1972.9 30.4\\
1972.4 28.7\\ 1972.6 28.7\\ 1972.75 28.6\\ 1972.9 28.6\\ 1973.0 28.7\\ 1973.2 28.8\\
1973.0 27.3\\ 1972.8 22.6\\ 1972.6 23.0\\ 1972.9 24.2\\
1973.1 31.8\\ 1973.15 31.6\\ 1973.2 31.7\\ 1973.25 31.5\\ 1973.3 31.7\\ 1973.35 31.6\\ 1973.4 31.8\\ 1973.5 31.6\\ 1973.6 31.7\\ 1973.75 31.6\\ 1973.9 31.7\\ 1974.1 31.7\\ 1974.3 31.6\\ 1974.5 31.7\\ 1974.7 31.6\\
1973.5 31.0\\ 1973.7 31.0\\ 1973.9 30.9\\ 1974.1 31.0\\ 1974.3 31.0\\ 1974.5 30.9\\ 1974.8 31.0\\ 1975.0 30.9\\ 1975.2 31.0\\ 1975.6 31.1\\
1973.65 32.9\\ 1973.75 33.0\\ 1973.85 32.9\\ 1973.95 33.0\\ 1974.05 32.9\\ 1974.15 33.0\\ 1974.25 32.95\\ 1974.35 33.0\\ 1974.45 32.9\\ 1974.55 33.0\\ 1974.65 32.9\\ 1974.75 33.0\\ 1974.85 32.9\\ 1974.95 33.0\\ 1975.05 32.9\\ 1975.2 33.0\\ 1975.4 32.9\\ 1975.6 33.0\\ 1975.8 32.9\\ 1976.0 33.0\\
1973.9 29.0\\ 1973.7 27.5\\ 1973.4 25.0\\ 1973.6 25.0\\ 1973.7 22.9\\ 1973.75 23.0\\ 1973.8 22.7\\ 1973.7 22.4\\ 1973.5 27.5\\
1974.35 28.2\\ 1974.45 28.1\\ 1974.55 28.2\\ 1974.65 28.1\\ 1974.75 28.2\\ 1974.85 28.1\\ 1974.95 28.2\\ 1975.1 28.1\\ 1975.25 28.15\\
1974.4 24.5\\ 1974.5 24.4\\ 1974.4 24.2\\
1975.0 29.5\\ 1975.05 29.3\\ 1975.1 29.2\\ 1975.15 29.4\\ 1975.12 29.1\\
1974.95 24.8\\ 1975.1 24.8\\ 1975.25 24.8\\ 1975.45 24.7\\ 1975.6 24.8\\ 1975.8 24.9\\
1975.0 25.8\\ 1975.75 23.9\\ 1975.9 23.8\\ 1976.2 22.8\\ 1976.25 22.7\\ 1975.5 26.0\\ 1975.3 22.4\\ 1975.2 23.2\\
1976.42 24.6\\ 1976.45 24.2\\ 1976.48 24.9\\ 1976.5 24.4\\ 1976.52 24.0\\ 1976.55 24.7\\ 1976.58 25.0\\ 1976.6 24.3\\ 1976.62 24.5\\ 1976.65 24.8\\ 1976.68 24.1\\ 1976.7 24.6\\ 1976.72 24.4\\ 1976.75 24.9\\ 1976.78 24.2\\ 1976.8 24.5\\ 1976.85 24.7\\ 1976.9 24.3\\ 1976.47 24.5\\ 1976.57 24.35\\ 1976.67 24.65\\
1976.52 32.8\\ 1976.55 33.1\\ 1976.58 32.6\\ 1976.6 32.9\\ 1976.63 33.2\\ 1976.65 32.7\\ 1976.68 33.0\\ 1976.7 32.5\\ 1976.73 32.8\\ 1976.75 33.1\\ 1976.78 32.6\\ 1976.8 32.9\\ 1976.83 33.0\\ 1976.85 32.7\\ 1976.88 32.8\\ 1976.9 33.1\\ 1976.95 32.6\\ 1977.0 32.9\\ 1977.05 32.7\\ 1977.1 33.0\\ 1977.15 32.8\\ 1977.2 32.9\\ 1977.3 32.8\\ 1977.5 33.0\\ 1977.7 32.8\\ 1977.9 32.7\\ 1978.1 32.9\\ 1978.3 32.6\\
1977.3 31.5\\ 1977.2 31.0\\ 1977.35 31.1\\ 1977.0 29.5\\ 1976.9 29.2\\ 1976.3 29.9\\
1976.95 27.4\\ 1977.0 27.3\\ 1977.05 27.5\\ 1977.1 27.2\\ 1977.15 27.4\\ 1977.2 27.3\\ 1977.25 27.5\\ 1977.3 27.2\\ 1977.4 27.4\\ 1977.5 27.3\\ 1977.6 27.4\\ 1977.75 27.3\\ 1977.9 27.2\\ 1977.02 27.6\\ 1977.12 27.1\\
1977.3 24.5\\ 1977.4 24.3\\ 1977.5 24.6\\ 1977.6 24.4\\ 1977.7 24.2\\ 1977.8 24.5\\ 1977.9 24.7\\ 1978.0 24.3\\ 1978.1 24.5\\ 1978.2 24.4\\ 1978.3 24.6\\ 1977.45 24.45\\ 1977.65 24.55\\ 1977.85 24.35\\ 1978.05 24.6\\
1978.4 24.5\\ 1978.5 24.3\\ 1978.6 24.6\\ 1978.7 24.4\\ 1978.8 24.2\\ 1978.9 24.5\\ 1979.0 24.4\\ 1979.1 24.3\\ 1979.15 24.6\\ 1978.55 24.45\\ 1978.75 24.35\\ 1978.95 24.55\\
1978.7 29.9\\ 1978.8 30.0\\ 1978.9 29.95\\ 1979.0 30.0\\ 1979.1 29.9\\ 1979.2 30.0\\ 1979.3 29.95\\ 1979.4 30.0\\
1979.2 23.1\\ 1979.35 23.2\\ 1979.5 23.1\\ 1979.6 23.0\\ 1979.75 23.1\\ 1979.9 23.2\\ 1978.85 22.9\\ 1979.0 22.9\\
1980.2 28.0\\ 1980.25 27.9\\ 1980.2 27.7\\
1980.5 23.5\\ 1980.55 23.3\\ 1980.6 23.4\\ 1980.65 23.6\\ 1980.7 23.2\\ 1980.8 23.3\\ 1980.9 23.1\\ 1981.0 23.0\\
1980.8 25.9\\ 1981.0 26.0\\ 1981.1 25.9\\ 1981.2 26.0\\ 1981.3 25.9\\ 1981.4 26.0\\ 1981.5 25.95\\ 1981.6 26.0\\ 1981.7 26.1\\
1981.65 25.2\\ 1981.75 25.1\\ 1981.85 25.2\\ 1981.95 25.15\\ 1982.05 25.2\\ 1982.15 25.1\\ 1982.25 25.2\\ 1982.35 25.15\\ 1982.5 25.2\\ 1982.65 25.2\\
1982.7 26.8\\ 1982.75 26.6\\ 1982.8 26.7\\
1982.9 23.9\\ 1983.0 23.7\\ 1983.05 23.8\\ 1983.1 23.6\\ 1982.95 24.0\\ 1983.15 23.5\\
1983.5 25.9\\ 1983.7 26.0\\ 1983.9 25.9\\ 1984.1 26.0\\ 1984.3 25.85\\ 1984.5 25.9\\ 1984.7 25.8\\ 1984.9 25.9\\ 1985.1 25.9\\
1984.4 22.2\\ 1984.5 22.0\\ 1984.55 22.1\\ 1984.6 22.2\\ 1984.7 22.0\\ 1984.8 22.1\\ 1984.9 22.2\\ 1985.0 22.0\\ 1985.1 22.1\\ 1984.45 22.4\\ 1984.65 22.3\\
1985.7 25.9\\ 1985.8 25.9\\ 1985.9 25.8\\ 1986.0 25.9\\ 1986.1 25.9\\
1970.3 25.7\\ 1970.8 26.2\\ 1971.2 24.9\\ 1971.4 27.0\\ 1972.0 25.8\\ 1972.2 30.4\\ 1972.4 27.3\\ 1972.7 26.1\\ 1973.3 28.9\\ 1973.6 25.1\\ 1974.0 26.0\\ 1974.2 23.2\\ 1974.6 27.1\\ 1974.8 22.1\\ 1975.3 27.0\\ 1975.6 25.2\\ 1975.9 27.3\\ 1976.0 28.3\\ 1976.2 25.8\\ 1976.4 26.9\\ 1976.6 28.6\\ 1977.2 29.0\\ 1977.4 26.0\\ 1977.6 25.8\\ 1977.8 28.9\\ 1978.0 27.8\\ 1978.2 29.0\\ 1978.4 26.6\\ 1978.6 27.5\\ 1978.9 27.4\\ 1979.0 28.4\\ 1979.3 27.9\\ 1979.5 26.2\\ 1979.7 32.9\\ 1979.9 30.0\\ 1980.1 29.8\\ 1980.3 33.0\\ 1980.4 26.0\\ 1980.6 31.7\\ 1980.8 29.0\\
1981.0 30.9\\ 1981.2 32.0\\ 1981.3 27.4\\ 1981.4 28.3\\ 1981.5 33.1\\ 1981.6 29.6\\ 1981.9 31.3\\ 1982.1 30.0\\ 1982.3 32.3\\ 1982.5 28.2\\ 1982.6 24.3\\ 1982.8 31.6\\ 1983.0 27.2\\ 1983.2 22.9\\ 1983.4 30.5\\ 1983.6 24.9\\ 1983.8 28.9\\ 1984.0 33.0\\ 1984.2 27.0\\ 1984.4 29.6\\ 1984.6 24.7\\ 1984.8 31.6\\ 1985.0 26.3\\ 1985.2 28.3\\ 1985.4 25.4\\ 1985.5 30.1\\ 1985.7 32.7\\ 1985.8 27.4\\ 1986.0 24.4\\ 1986.2 29.6\\ 1986.3 30.5\\ 1986.5 27.4\\ 1986.7 23.9\\ 1986.9 25.3\\ 1987.1 22.4\\ 1987.3 26.6\\ 1987.5 28.8\\ 1987.7 24.9\\ 1988.0 33.0\\ 1988.2 32.2\\ 1988.4 27.7\\ 1988.6 26.0\\ 1988.8 31.2\\
1983.3 24.6\\ 1983.5 23.4\\ 1983.7 25.2\\ 1984.1 24.2\\ 1984.3 23.7\\ 1985.3 24.8\\ 1985.6 23.9\\ 1986.4 22.3\\ 1986.8 22.5\\ 1987.2 22.4\\ 1987.6 22.6\\ 1987.9 23.0\\ 1988.1 24.7\\ 1988.3 25.0\\ 1988.5 22.8\\ 1988.7 23.7\\ 1988.9 24.3\\ 1982.0 22.8\\ 1982.2 22.5\\ 1982.4 23.6\\ 1981.5 24.5\\ 1980.9 24.8\\ 1980.3 24.4\\ 1979.8 24.6\\ 1979.6 25.5\\ 1978.0 23.2\\ 1977.5 22.6\\ 1977.0 23.3\\ 1976.4 23.8\\ 1976.0 23.9\\ 1975.4 22.1\\ 1974.9 23.5\\ 1974.5 22.6\\ 1973.2 24.1\\ 1972.7 24.0\\
1989.1 23.4\\ 1989.15 23.0\\ 1989.2 23.6\\ 1989.22 22.8\\ 1989.25 23.3\\ 1989.3 22.6\\ 1989.32 23.7\\ 1989.35 23.1\\ 1989.38 22.9\\ 1989.4 23.5\\ 1989.42 22.7\\ 1989.45 23.2\\ 1989.48 23.8\\ 1989.5 22.5\\ 1989.52 23.0\\ 1989.55 23.4\\ 1989.6 22.8\\ 1989.62 23.6\\ 1989.65 23.1\\ 1989.7 22.9\\ 1989.28 23.45\\ 1989.36 23.55\\ 1989.44 22.95\\ 1989.18 23.25\\
1989.8 23.5\\ 1990.0 23.6\\ 1990.2 23.4\\ 1990.4 23.5\\ 1990.6 23.3\\ 1990.8 23.5\\ 1991.0 23.4\\ 1991.2 23.6\\ 1991.5 23.3\\ 1991.8 23.5\\ 1988.5 23.0\\ 1988.8 23.3\\ 1988.9 22.5\\
1992.4 22.6\\ 1992.55 22.4\\ 1992.7 22.7\\ 1992.85 22.3\\ 1993.0 22.5\\ 1992.3 23.2\\ 1992.6 23.0\\
1989.8 30.2\\ 1989.9 30.1\\ 1990.0 30.2\\ 1990.15 30.15\\ 1990.3 30.2\\ 1990.5 30.1\\ 1990.7 30.2\\ 1990.9 30.1\\ 1991.2 30.2\\ 1991.5 30.3\\
1990.0 31.7\\ 1990.2 31.7\\ 1990.4 31.6\\ 1990.6 31.7\\ 1990.9 31.7\\
1993.4 23.7\\ 1993.55 23.8\\ 1993.7 23.7\\ 1993.85 23.6\\ 1994.0 23.7\\ 1994.15 23.8\\ 1994.3 23.7\\ 1994.5 23.7\\ 1994.7 23.8\\ 1994.9 23.7\\ 1995.3 23.7\\
1993.6 29.4\\ 1993.7 29.6\\ 1993.8 29.3\\ 1993.95 29.3\\ 1994.1 29.2\\ 1994.25 29.3\\ 1994.4 29.3\\ 1994.55 29.2\\ 1994.7 29.3\\ 1994.85 29.3\\ 1995.0 29.2\\ 1995.2 29.3\\ 1995.4 29.3\\ 1995.7 29.3\\ 1996.0 29.3\\ 1996.3 29.4\\ 1996.5 29.3\\ 1996.8 29.2\\
1995.45 22.1\\ 1995.55 22.2\\ 1995.65 22.0\\ 1996.0 22.0\\ 1996.1 21.95\\ 1996.2 22.0\\ 1996.3 22.05\\ 1996.4 21.95\\ 1996.5 22.0\\ 1996.7 22.0\\ 1996.9 22.05\\ 1997.2 22.0\\ 1997.6 21.95\\ 1998.0 22.0\\ 1998.3 22.0\\ 1998.6 21.95\\ 1998.9 22.0\\
1996.1 27.2\\ 1996.15 27.0\\ 1996.2 27.3\\ 1996.25 27.1\\ 1996.3 27.0\\ 1996.35 27.2\\ 1996.4 27.3\\ 1996.45 27.1\\ 1996.55 27.2\\ 1996.65 27.0\\ 1996.75 27.1\\ 1996.9 27.0\\ 1997.1 27.1\\ 1997.3 27.0\\ 1997.6 26.9\\ 1997.9 27.0\\
1997.3 30.5\\ 1997.45 30.4\\ 1997.6 30.6\\ 1997.75 30.5\\
1998.7 27.3\\ 1998.8 27.4\\ 1998.9 27.2\\ 1999.0 27.3\\ 1999.1 27.35\\ 1999.4 27.3\\ 1999.6 27.4\\
1996.4 25.9\\ 1996.6 25.8\\ 1996.8 26.0\\ 1997.0 25.7\\ 1997.3 25.9\\ 1997.6 25.5\\
1998.5 25.7\\ 1998.7 25.6\\ 1998.9 25.5\\ 1999.1 25.6\\ 1999.3 25.5\\ 1999.5 25.6\\ 1999.7 25.5\\ 1999.9 25.6\\ 2000.1 25.55\\ 2000.3 25.7\\ 2000.6 25.6\\
1999.8 24.7\\ 2000.0 24.6\\ 2000.2 24.8\\ 2000.4 24.7\\ 2000.6 24.9\\
2000.9 29.5\\ 2001.0 29.5\\ 2001.1 29.6\\ 2001.2 29.5\\ 2001.3 29.5\\ 2001.4 29.55\\ 2001.5 29.5\\ 2001.6 29.4\\ 2001.8 29.5\\ 2002.2 29.4\\ 2002.6 29.5\\
2001.7 26.2\\ 2001.8 26.0\\ 2002.6 31.6\\ 2002.62 31.8\\ 2002.64 31.7\\ 2002.7 31.0\\ 2002.8 31.0\\ 2003.0 31.1\\
2003.6 26.0\\ 2003.7 25.95\\ 2003.8 26.0\\ 2003.9 26.05\\ 2004.0 26.0\\ 2004.1 25.9\\ 2004.2 26.0\\ 2004.3 25.95\\ 2004.5 26.0\\ 2004.7 25.9\\
2004.7 25.1\\ 2004.75 25.3\\ 2004.8 25.0\\ 2004.85 25.2\\ 2004.9 25.1\\ 2004.95 24.9\\ 2005.0 25.2\\
2004.9 25.6\\ 2005.1 25.5\\ 2005.2 25.5\\ 2005.3 25.5\\ 2005.45 25.5\\
2005.0 32.4\\ 2005.05 32.4\\ 2005.95 32.4\\ 2006.0 32.35\\ 2006.85 32.4\\ 2006.95 32.4\\ 2007.1 32.4\\
2006.4 28.5\\ 2006.55 28.3\\ 2006.7 28.4\\ 2006.85 28.3\\ 2007.0 28.4\\ 2007.2 28.4\\ 2007.45 28.5\\ 2007.6 28.4\\ 2007.75 28.5\\ 2007.9 28.5\\ 2008.1 28.5\\ 2008.2 28.6\\
2007.7 24.5\\ 2007.8 24.4\\ 2007.9 24.5\\ 2008.0 24.4\\ 2007.5 23.2\\ 2007.6 23.3\\ 2007.7 23.1\\
2006.6 33.2\\ 2006.75 33.2\\ 2006.9 33.3\\ 2007.6 33.2\\ 2007.8 33.2\\
2003.8 29.7\\ 2003.9 29.5\\ 2004.0 29.6\\ 2004.2 29.4\\
1988.3 32.7\\ 1988.4 32.0\\ 1988.6 27.3\\ 1988.8 25.2\\ 1989.2 32.4\\ 1989.5 32.8\\ 1989.7 25.5\\ 1989.9 24.6\\ 1990.1 25.9\\ 1990.3 28.5\\ 1990.5 25.2\\ 1990.7 28.9\\ 1990.9 25.9\\ 1991.1 28.6\\ 1991.3 24.4\\ 1991.5 33.3\\ 1991.6 28.3\\ 1991.8 25.8\\ 1992.0 31.1\\ 1992.2 29.3\\ 1992.4 24.6\\ 1992.6 25.8\\ 1992.8 31.2\\ 1993.0 26.2\\ 1993.2 25.5\\ 1993.3 28.1\\ 1993.5 26.6\\ 1993.8 26.0\\ 1994.0 24.6\\ 1994.2 33.0\\ 1994.4 28.4\\ 1994.6 24.0\\ 1994.8 25.1\\ 1995.0 28.5\\ 1995.2 27.3\\ 1995.4 30.5\\ 1995.8 32.8\\ 1996.1 28.4\\ 1996.5 25.3\\ 1996.7 24.3\\
1997.0 29.3\\ 1997.3 28.0\\ 1997.5 23.7\\ 1997.8 24.5\\ 1998.0 30.4\\ 1998.2 33.4\\ 1998.4 24.9\\ 1998.6 29.4\\ 1998.8 23.1\\ 1999.0 24.9\\ 1999.2 31.5\\ 1999.4 22.9\\ 1999.6 28.8\\ 1999.8 30.3\\ 2000.0 31.7\\ 2000.2 32.3\\ 2000.4 30.6\\ 2000.6 23.0\\ 2000.8 26.0\\ 2001.0 22.6\\ 2001.2 24.8\\ 2001.4 31.4\\ 2001.6 24.4\\ 2001.9 23.8\\ 2002.1 27.1\\ 2002.3 33.9\\ 2002.5 25.2\\ 2002.8 24.0\\ 2003.0 28.2\\ 2003.2 22.8\\ 2003.4 25.4\\ 2003.6 27.4\\ 2004.0 23.5\\ 2004.2 31.0\\ 2004.4 27.7\\ 2004.6 24.4\\ 2004.8 22.3\\ 2005.0 26.9\\ 2005.2 24.0\\ 2005.4 30.6\\
2005.6 26.4\\ 2005.8 29.6\\ 2006.0 25.0\\ 2006.2 30.0\\ 2006.4 24.8\\ 2006.6 27.1\\ 2006.8 23.5\\ 2007.0 26.5\\ 2007.2 30.8\\ 2007.4 25.8\\ 2007.6 27.2\\ 2007.9 31.4\\ 2008.1 26.0\\ 2008.3 24.9\\ 2008.2 32.9\\ 2007.3 22.3\\ 2006.3 22.9\\ 2005.5 23.6\\ 2004.5 24.6\\ 2003.1 23.9\\ 2002.0 23.6\\ 2001.5 22.9\\ 2000.9 24.3\\ 1999.9 23.5\\ 1998.1 23.4\\ 1997.2 24.1\\ 1996.0 24.6\\ 1995.1 24.4\\ 1994.9 22.6\\ 1993.9 22.9\\ 1992.9 24.0\\ 1991.9 22.8\\ 1991.0 24.2\\ 1990.6 22.4\\
}\datad

\pgfplotsset{
  panel/.style={
    scale only axis, width=815pt, anchor=south west,
    axis line style={black!70, line width=1pt},
    every tick/.style={black!70, line width=0.9pt},
    major tick length=7pt, tick align=inside,
    ticklabel style={font=\fontsize{22}{22}\selectfont},
    /pgf/number format/assume math mode=true,
    /pgf/number format/1000 sep={},
  },
}

\begin{document}
\begin{tikzpicture}
\useasboundingbox (0pt,0pt) rectangle (921pt,910pt);

% (a)
\begin{axis}[panel, at={(78pt,707pt)}, height=189pt,
  xmin=0, xmax=9000, ymin=2.5, ymax=8,
  xtick={0,1000,...,9000}, xticklabels={},
  ytick={4,6,8},
  yticklabel style={xshift=-4pt},
  ylabel={Magnitude /\textit{M}\textsubscript{L}},
  every axis y label/.style={at={(axis description cs:-0.060,0.49)}, rotate=90, anchor=center, font=\fontsize{27}{27}\selectfont},
]
\addplot[ycomb, black!85, line width=0.8pt, mark=o, mark size=4.2pt,
  mark options={line width=0.7pt, fill=none, black}] table {\dataa};
\node[font=\fontsize{25}{25}\selectfont] at (axis description cs:0.041,0.82) {(a)};
\end{axis}

% (b)
\begin{axis}[panel, at={(78pt,557pt)}, height=141pt,
  xmin=0, xmax=9000, ymin=0, ymax=1, y dir=reverse,
  xtick={0,1000,...,9000},
  xticklabel style={yshift=-10pt},
  ytick={0,0.5,1}, yticklabels={0,0.5,1},
  yticklabel style={xshift=-4pt},
  xlabel={Duration time /day},
  every axis x label/.style={at={(axis description cs:0.5,-0.38)}, anchor=center, font=\fontsize{27}{27}\selectfont},
  ylabel={\textit{μ}},
  every axis y label/.style={at={(axis description cs:-0.066,0.5)}, rotate=90, anchor=center, font=\fontsize{22}{22}\selectfont},
]
\addplot[ycomb, black!85, line width=0.8pt, mark=triangle, mark size=4.6pt,
  mark options={line width=0.7pt, fill=none, black, rotate=180}] table {\datab};
\node[font=\fontsize{25}{25}\selectfont] at (axis description cs:0.041,0.18) {(b)};
\end{axis}

% (c)
\begin{axis}[panel, at={(78pt,264pt)}, height=189pt,
  xmin=1970, xmax=2008.4, ymin=21.8, ymax=34.05,
  xtick={1970,1975,...,2005}, xticklabels={},
  ytick={23,25,...,33},
  yticklabel style={xshift=-2pt},
  ylabel={Latitude /$\circ$N},
  every axis y label/.style={at={(axis description cs:-0.067,0.5)}, rotate=90, anchor=center, font=\fontsize{28}{28}\selectfont},
]
\addplot[only marks, mark=*, mark size=1.5pt, black] table {\datac};
\addplot[only marks, mark=*, mark size=1.5pt, black] table {\datace};
\addplot[only marks, mark=*, mark size=1.5pt, black] table {\datacf};
\node[font=\fontsize{25}{25}\selectfont] at (axis description cs:0.042,0.836) {(c)};
\end{axis}

% (d)
\begin{axis}[panel, at={(78pt,66pt)}, height=188pt,
  xmin=1970, xmax=2008.4, ymin=21.8, ymax=34.15,
  xtick={1970,1975,...,2005},
  xticklabel style={yshift=-8pt},
  ytick={23,25,...,33},
  yticklabel style={xshift=-2pt},
  xlabel={Time /yr},
  every axis x label/.style={at={(axis description cs:0.5,-0.265)}, anchor=center, font=\fontsize{27}{27}\selectfont},
  ylabel={Latitude /$\circ$N},
  every axis y label/.style={at={(axis description cs:-0.067,0.5)}, rotate=90, anchor=center, font=\fontsize{28}{28}\selectfont},
]
\addplot[only marks, mark=*, mark size=1.35pt, black] table {\datad};
\node[font=\fontsize{25}{25}\selectfont] at (axis description cs:0.042,0.84) {(d)};
\end{axis}
\end{tikzpicture}
\end{document}
